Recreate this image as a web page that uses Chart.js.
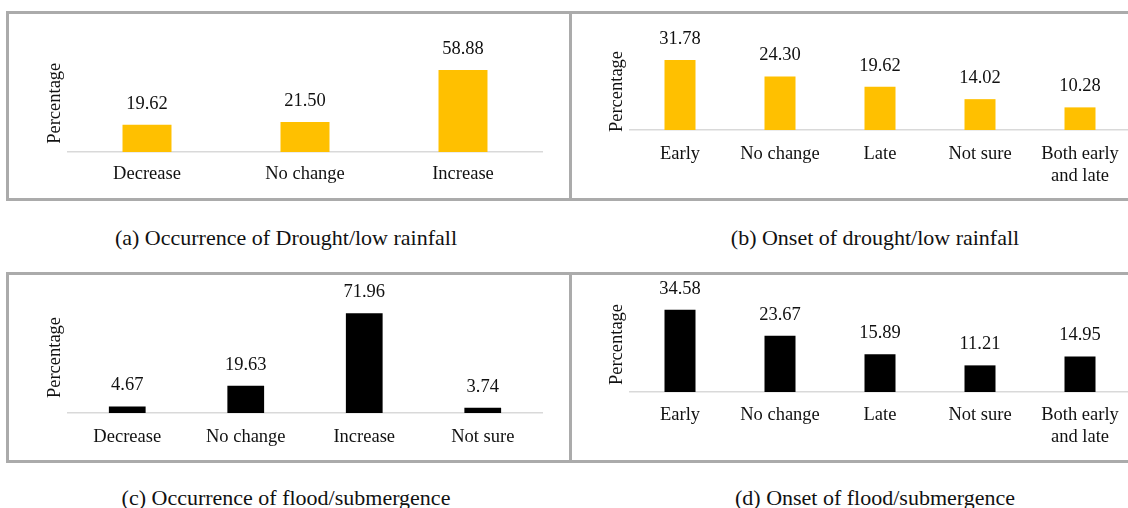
<!DOCTYPE html>
<html>
<head>
<meta charset="utf-8">
<script src="https://cdn.jsdelivr.net/npm/chart.js@4.4.1/dist/chart.umd.min.js"></script>
<style>
  html, body { margin: 0; padding: 0; background: #fff; }
  body { width: 1128px; height: 508px; position: relative; overflow: hidden; font-family: 'Liberation Serif', 'Times New Roman', serif; }
  .panel { position: absolute; border: 3px solid #ababab; box-sizing: border-box; }
  canvas { position: absolute; }
  .cap { position: absolute; width: 560px; text-align: center; font-size: 22px; color: #111; }
</style>
</head>
<body>
<div class="panel" style="left:6px;top:11px;width:566px;height:190px"></div>
<div class="panel" style="left:569px;top:11px;width:600px;height:190px"></div>
<div class="panel" style="left:6px;top:272px;width:566px;height:191px"></div>
<div class="panel" style="left:569px;top:272px;width:600px;height:191px"></div>

<canvas id="chartA" width="560" height="185" style="left:9px;top:14px"></canvas>
<canvas id="chartB" width="594" height="185" style="left:572px;top:14px"></canvas>
<canvas id="chartC" width="560" height="186" style="left:9px;top:275px"></canvas>
<canvas id="chartD" width="594" height="186" style="left:572px;top:275px"></canvas>

<div class="cap" style="left:6px;top:225px">(a) Occurrence of Drought/low rainfall</div>
<div class="cap" style="left:595px;top:225px">(b) Onset of drought/low rainfall</div>
<div class="cap" style="left:6px;top:485px">(c) Occurrence of flood/submergence</div>
<div class="cap" style="left:595px;top:485px">(d) Onset of flood/submergence</div>

<script>
// data
var occurrenceCats = ['Decrease', 'No change', 'Increase']
var droughtOccurrence = [19.62, 21.50, 58.88]
var onsetCats = ['Early', 'No change', 'Late', 'Not sure', ['Both early', 'and late']]
var droughtOnset = [31.78, 24.30, 19.62, 14.02, 10.28]
var floodCats = ['Decrease', 'No change', 'Increase', 'Not sure']
var floodOccurrence = [4.67, 19.63, 71.96, 3.74]
var floodOnset = [34.58, 23.67, 15.89, 11.21, 14.95]

var GOLD = '#FFC000', BLACK = '#000000'
var serif = "'Liberation Serif', 'Times New Roman', serif"

// value labels above bars
var valueLabels = {
    id: 'valueLabels',
    afterDatasetsDraw: function(chart){
        var ctx = chart.ctx
        ctx.save()
        ctx.font = '18.5px ' + serif
        ctx.fillStyle = '#111'
        ctx.textAlign = 'center'
        ctx.textBaseline = 'middle'
        chart.getDatasetMeta(0).data.forEach(function(bar, i){
            var v = chart.data.datasets[0].data[i]
            ctx.fillText(v.toFixed(2), bar.x, bar.y - 21)
        })
        ctx.restore()
    }
}

function makeChart(id, cats, vals, color, yMax, lay){
    var ctx = document.getElementById(id).getContext('2d')
    return new Chart(ctx, {
        type: 'bar',
        data: {
            labels: cats,
            datasets: [{
                data: vals,
                backgroundColor: color,
                borderWidth: 0,
                categoryPercentage: 1,
                barPercentage: 0.31
            }]
        },
        options: {
            responsive: false,
            animation: false,
            layout: { padding: { top: lay.top, right: lay.right, left: 0, bottom: 0 } },
            plugins: { legend: { display: false }, tooltip: { enabled: false } },
            scales: {
                x: {
                    grid: { display: false },
                    border: { display: true, color: '#d9d9d9', width: 1.5 },
                    ticks: { color: '#111', padding: lay.tk, maxRotation: 0, autoSkip: false,
                        font: { family: serif, size: 18.5, lineHeight: 1.15 } },
                    afterFit: function(s){ s.height = lay.xh }
                },
                y: {
                    min: 0, max: yMax,
                    grid: { display: false },
                    border: { display: false },
                    ticks: { display: false },
                    title: { display: true, text: 'Percentage', color: '#111',
                        padding: { top: lay.tp, bottom: 0 },
                        font: { family: serif, size: 18.5, lineHeight: 1.2 } },
                    afterFit: function(s){ s.width = lay.yw }
                }
            }
        },
        plugins: [valueLabels]
    })
}

makeChart('chartA', occurrenceCats, droughtOccurrence, GOLD, 70, { top: 40.5, right: 27, xh: 47, yw: 59, tp: 35, tk: 4 })
makeChart('chartB', onsetCats, droughtOnset, GOLD, 35, { top: 39, right: 36, xh: 69, yw: 58, tp: 34, tk: 6 })
makeChart('chartC', floodCats, floodOccurrence, BLACK, 80, { top: 27, right: 27, xh: 48, yw: 59, tp: 35, tk: 6 })
makeChart('chartD', onsetCats, floodOnset, BLACK, 40, { top: 22, right: 36, xh: 69, yw: 58, tp: 34, tk: 5 })
</script>
</body>
</html>
